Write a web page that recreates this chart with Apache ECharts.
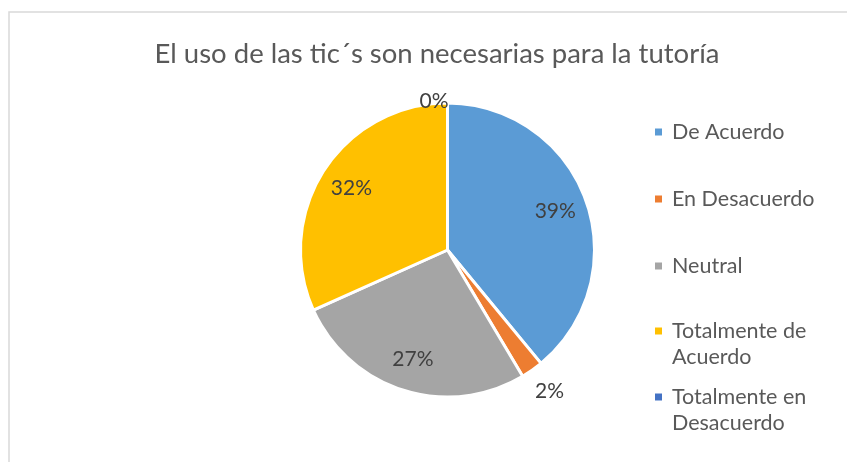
<!DOCTYPE html>
<html>
<head>
<meta charset="utf-8">
<script src="https://cdn.jsdelivr.net/npm/echarts@6/dist/echarts.min.js"></script>
<style>
  html, body { margin: 0; padding: 0; background: #fff; }
  #chart { width: 847px; height: 462px; }
</style>
</head>
<body>
<div id="chart"></div>
<script>
// categorias y valores (conteo de respuestas)
const categorias = ['De Acuerdo', 'En Desacuerdo', 'Neutral', 'Totalmente de Acuerdo', 'Totalmente en Desacuerdo'];
const valores = [16, 1, 11, 13, 0];
const colores = ['#5B9BD5', '#ED7D31', '#A5A5A5', '#FFC000', '#4472C4'];
const titulo = 'El uso de las tic´s son necesarias para la tutoría';

const fuente = 'Lato';
const centro = [447.5, 250];
const radio = 147;

let chart = echarts.init(document.getElementById('chart'));

// etiquetas de las porciones chicas van afuera
let datosBase = categorias.map((n, i) => {
  let item = { name: n, value: valores[i], itemStyle: { color: colores[i] } };
  if (i === 1) {
    item.label = { show: true, distanceToLabelLine: -12 };
    item.labelLine = { show: false, length: 26, length2: 0 };
  } else if (i === 4) {
    item.label = { show: true, distanceToLabelLine: -28 };
    item.labelLine = { show: false, length: 2, length2: 0 };
  } else {
    item.label = { show: false };
  }
  return item;
});

// serie transparente solo para las etiquetas internas
let datosEtiqueta = categorias.map((n, i) => ({
  name: n,
  value: valores[i],
  label: { show: i === 0 || i === 2 || i === 3 }
}));

let labelStyle = {
  fontFamily: fuente,
  fontSize: 21,
  color: '#404040',
  formatter: '{d}%'
};

// nombres largos en dos lineas, con la primera a la altura del icono
let partir = n => '\n' + n.replace(/^(\S+ \S+) /, '$1\n');

let legendBase = {
  orient: 'vertical',
  left: 653,
  padding: 0,
  icon: 'rect',
  itemWidth: 9,
  itemHeight: 9,
  selectedMode: false,
  textStyle: {
    fontFamily: fuente,
    fontSize: 21.5,
    color: '#595959',
    lineHeight: 26,
    padding: [0, 0, 0, 4]
  }
};

let option = {
  animation: false,
  title: {
    text: titulo,
    left: 432,
    textAlign: 'center',
    top: 35,
    textStyle: {
      fontFamily: fuente,
      fontSize: 27.5,
      fontWeight: 'normal',
      color: '#595959'
    }
  },
  graphic: [{
    type: 'rect',
    shape: { x: 9, y: 12, width: 900, height: 500 },
    style: { fill: 'none', stroke: '#D9D9D9', lineWidth: 1.5 },
    silent: true
  }],
  legend: [
    Object.assign({}, legendBase, {
      top: 119,
      itemGap: 41,
      data: categorias.slice(0, 3)
    }),
    Object.assign({}, legendBase, {
      top: 292,
      data: [categorias[3]],
      formatter: partir
    }),
    Object.assign({}, legendBase, {
      top: 358,
      data: [categorias[4]],
      formatter: partir
    })
  ],
  series: [
    {
      type: 'pie',
      center: centro,
      radius: radio,
      startAngle: 90,
      clockwise: true,
      avoidLabelOverlap: false,
      percentPrecision: 0,
      itemStyle: { borderColor: '#fff', borderWidth: 3 },
      label: Object.assign({ position: 'outside' }, labelStyle),
      emphasis: { disabled: true },
      data: datosBase
    },
    {
      type: 'pie',
      center: centro,
      radius: [76, radio],
      startAngle: 90,
      clockwise: true,
      silent: true,
      avoidLabelOverlap: false,
      percentPrecision: 0,
      itemStyle: { color: 'rgba(0,0,0,0)', borderWidth: 0 },
      label: Object.assign({ position: 'inside' }, labelStyle),
      labelLine: { show: false },
      emphasis: { disabled: true },
      legendHoverLink: false,
      data: datosEtiqueta
    }
  ]
};

chart.setOption(option);
</script>
</body>
</html>
